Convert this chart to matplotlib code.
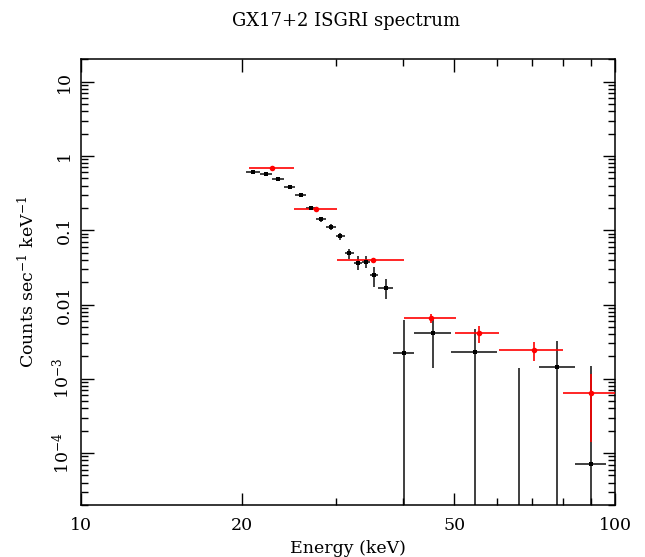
import numpy as np
import matplotlib
matplotlib.use("Agg")
import matplotlib.pyplot as plt
from matplotlib.ticker import FixedLocator, NullFormatter, FuncFormatter

plt.rcParams['font.family'] = ['DejaVu Serif']
plt.rcParams['mathtext.fontset'] = 'dejavuserif'

# ---- black spectrum (ISGRI, fine bins) ----
blk_x = [21.0, 22.2, 23.4, 24.6, 25.8, 27.0, 28.2, 29.4, 30.6, 31.8, 33.0, 34.2, 35.4, 37.2,
         40.2, 45.6, 54.6, 66.0, 78.0, 90.0]
blk_xerr = [0.6, 0.6, 0.6, 0.6, 0.6, 0.6, 0.6, 0.6, 0.6, 0.6, 0.6, 0.6, 0.6, 1.2,
            1.8, 3.6, 5.4, 6.0, 6.0, 6.0]
blk_y = [0.61, 0.567, 0.486, 0.383, 0.301, 0.201, 0.142, 0.110, 0.0837, 0.049, 0.0366, 0.0378,
         0.0248, 0.0169, 2.25e-3, 4.1e-3, 2.26e-3, -5.0e-4, 1.46e-3, 7.2e-5]
blk_err_lo = [0.02, 0.018, 0.015, 0.013, 0.013, 0.012, 0.011, 0.010, 0.009, 0.0077, 0.0074, 0.007,
              0.0074, 0.0051, 3.95e-3, 2.7e-3, 2.48e-3, 1.89e-3, 1.81e-3, 1.42e-3]
blk_err_hi = [0.02, 0.018, 0.015, 0.013, 0.013, 0.012, 0.011, 0.010, 0.009, 0.0077, 0.0085, 0.0077,
              0.0072, 0.005, 3.95e-3, 2.0e-3, 2.48e-3, 1.89e-3, 1.81e-3, 1.42e-3]

# ---- red spectrum (coarse bins) ----
red_x = [22.8, 27.6, 35.25, 45.3, 55.5, 70.4, 90.0]
red_xerr = [2.2, 2.6, 5.05, 5.0, 5.25, 9.65, 10.0]
red_y = [0.69, 0.195, 0.0398, 6.55e-3, 4.1e-3, 2.45e-3, 6.5e-4]
red_yerr = [0.02, 0.006, 0.0015, 0.9e-3, 1.05e-3, 0.7e-3, 5.1e-4]

y_min, y_max = 2.0e-5, 20.0

fig = plt.figure(figsize=(6.45, 5.57), dpi=100)
ax = fig.add_axes([0.1256, 0.0934, 0.828, 0.8001])
ax.set_xscale('log')
ax.set_yscale('log')
ax.set_xlim(10, 100)
ax.set_ylim(y_min, y_max)


def draw(xs, xe, ys, elo, ehi, color, marker, ms, lw, alpha):
    xs = np.asarray(xs); xe = np.asarray(xe); ys = np.asarray(ys)
    elo = np.asarray(elo); ehi = np.asarray(ehi)
    lo = np.maximum(ys - elo, 1e-9)
    hi = ys + ehi
    ax.vlines(xs, lo, hi, colors=color, lw=lw, alpha=alpha, zorder=3)
    pos = ys > 0
    ax.hlines(ys[pos], (xs - xe)[pos], (xs + xe)[pos], colors=color, lw=lw, alpha=alpha, zorder=3)
    ax.plot(xs[pos], ys[pos], marker, color=color, ms=ms, mew=0, zorder=4)


draw(blk_x, blk_xerr, blk_y, blk_err_lo, blk_err_hi, 'black', 's', 2.3, 1.4, 0.75)
draw(red_x, red_xerr, red_y, red_yerr, red_yerr, 'red', 'o', 4.0, 1.4, 0.85)

# ticks
ax.xaxis.set_major_locator(FixedLocator([10, 20, 50, 100]))
ax.xaxis.set_minor_locator(FixedLocator([30, 40, 60, 70, 80, 90]))
ax.xaxis.set_major_formatter(FuncFormatter(lambda v, p: '%d' % v))
ax.xaxis.set_minor_formatter(NullFormatter())

ymaj = [1e-4, 1e-3, 1e-2, 1e-1, 1, 10]
ylab = {1e-4: r'$10^{-4}$', 1e-3: r'$10^{-3}$', 1e-2: '0.01', 1e-1: '0.1', 1: '1', 10: '10'}
ax.yaxis.set_major_locator(FixedLocator(ymaj))
yminor = [m * 10.0 ** e for e in range(-5, 2) for m in range(2, 10)]
ax.yaxis.set_minor_locator(FixedLocator(yminor))


def yfmt(v, p):
    for k, s in ylab.items():
        if abs(np.log10(v) - np.log10(k)) < 1e-6:
            return s
    return ''


ax.yaxis.set_major_formatter(FuncFormatter(yfmt))
ax.yaxis.set_minor_formatter(NullFormatter())

ax.tick_params(which='both', direction='in', top=True, right=True, width=1.0, labelsize=12.5)
ax.tick_params(which='major', length=9)
ax.tick_params(which='minor', length=5)
ax.tick_params(axis='x', which='major', pad=9)
ax.tick_params(axis='y', which='major', pad=6)
for lab in ax.get_yticklabels():
    lab.set_rotation(90)
    lab.set_va('center')

for s in ax.spines.values():
    s.set_linewidth(1.1)

ax.set_xlabel('Energy (keV)', fontsize=12.5, labelpad=4)
ax.set_ylabel(r'Counts sec$^{-1}$ keV$^{-1}$', fontsize=12.5, labelpad=9)
fig.text(0.536, 0.962, 'GX17+2 ISGRI spectrum', ha='center', va='center', fontsize=13)

fig.savefig('out.png', dpi=100)
